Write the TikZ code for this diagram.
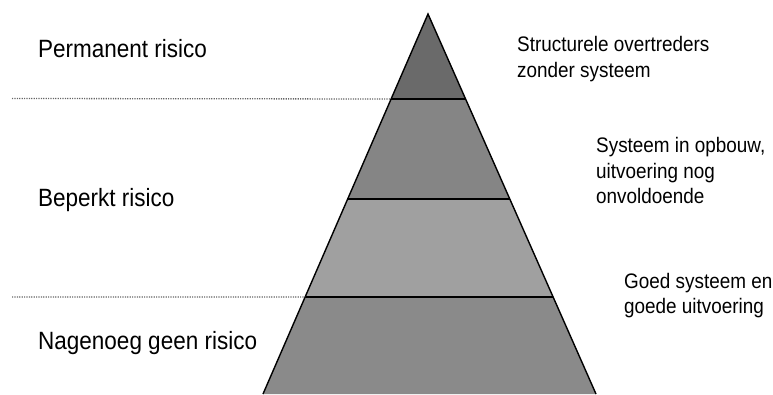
\documentclass[tikz,border=0pt]{standalone}
\usepackage{fontspec}
\setmainfont{Liberation Sans}[FakeStretch=0.9]
\usepackage{tikz}
\usetikzlibrary{calc}
\definecolor{tierA}{HTML}{6A6A6A}
\definecolor{tierB}{HTML}{858585}
\definecolor{tierC}{HTML}{A0A0A0}
\definecolor{tierD}{HTML}{8A8A8A}

\begin{document}
\begin{tikzpicture}[x=1pt,y=-1pt,
  risk/.style={anchor=base west,inner sep=0pt,font=\fontsize{25}{30}\selectfont},
  note/.style={anchor=north west,inner sep=0pt,align=left,font=\fontsize{21}{25.5}\selectfont},
  sep/.style={black!60,line width=1.3pt,dash pattern=on 1.2pt off 1.2pt}]
\useasboundingbox (0,0) rectangle (773,394);
\coordinate (top) at (428,14);
\coordinate (bl) at (263,394);
\coordinate (br) at (596,394);
\coordinate (l1) at ($(top)!0.2237!(bl)$);
\coordinate (r1) at ($(top)!0.2237!(br)$);
\coordinate (l2) at ($(top)!0.4868!(bl)$);
\coordinate (r2) at ($(top)!0.4868!(br)$);
\coordinate (l3) at ($(top)!0.7447!(bl)$);
\coordinate (r3) at ($(top)!0.7447!(br)$);
\coordinate (d1) at (12,98.5);
\coordinate (d3) at (12,297);

\fill[tierA] (top)--(l1)--(r1)--cycle;
\fill[tierB] (l1)--(l2)--(r2)--(r1)--cycle;
\fill[tierC] (l2)--(l3)--(r3)--(r2)--cycle;
\fill[tierD] (l3)--(bl)--(br)--(r3)--cycle;
\draw[line width=1.4pt,line join=miter] (bl)--(top)--(br);
\draw[line width=1.2pt] (l1)--(r1);
\draw[line width=1.2pt] (l2)--(r2);
\draw[line width=1.2pt] (l3)--(r3);
\draw[sep] (d1)--(l1);
\draw[sep] (d3)--(l3);

\node[risk] (perm) at (38,57.3) {Permanent risico};
\node[risk] (bep) at (38,206.7) {Beperkt risico};
\node[risk] (geen) at (38,349) {Nagenoeg geen risico};

\node[note] (struct) at (517,36.5) {Structurele overtreders\\zonder systeem};
\node[note] (opb) at (596,137.5) {Systeem in opbouw,\\uitvoering nog\\onvoldoende};
\node[note] (goed) at (624,273) {Goed systeem en\\goede uitvoering};
\end{tikzpicture}
\end{document}
